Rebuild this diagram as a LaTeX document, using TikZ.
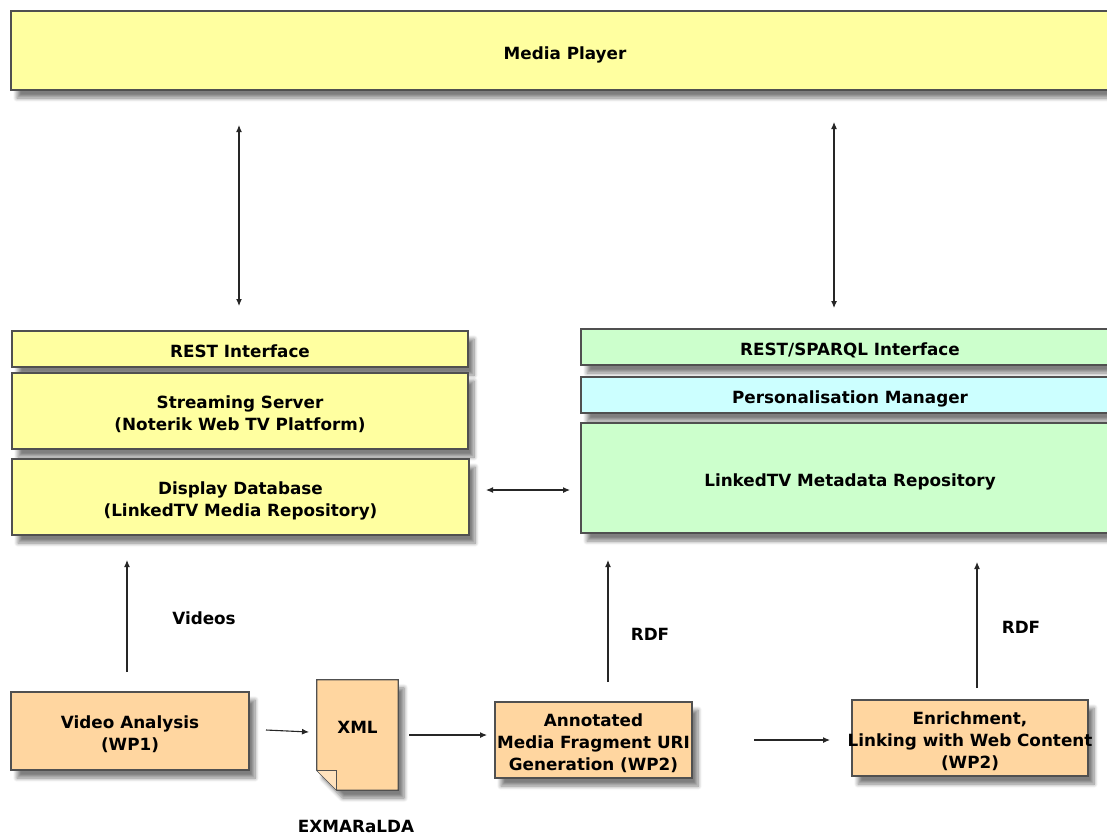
\documentclass[tikz,border=0pt]{standalone}
\usepackage{fontspec}
\setmainfont{DejaVu Sans}
\usetikzlibrary{arrows.meta,shadows.blur}
\definecolor{boxyellow}{HTML}{FFFFA0}
\definecolor{boxgreen}{HTML}{CCFFCC}
\definecolor{boxcyan}{HTML}{CCFFFF}
\definecolor{boxpeach}{HTML}{FFD6A0}
\definecolor{boxline}{HTML}{505050}
\newcommand{\tx}[1]{\makebox[0pt]{\raisebox{-4.5pt}[\height][\depth]{\begin{tabular}{@{}c@{}}#1\end{tabular}}}}
\begin{document}
\begin{tikzpicture}[x=1pt,y=-1pt,
  every node/.style={font=\bfseries\fontsize{16.8}{22}\selectfont, inner sep=0pt},
  shade/.style={blur shadow={shadow xshift=6pt, shadow yshift=-8pt, shadow blur steps=8, shadow blur radius=4pt, shadow opacity=50}},
  boxy/.style={draw=boxline, line width=1.3pt, rectangle, shade},
  ylw/.style={boxy, fill=boxyellow},
  grn/.style={boxy, fill=boxgreen},
  cyn/.style={boxy, fill=boxcyan},
  pch/.style={boxy, fill=boxpeach},
  conn/.style={draw=black!85, line width=1.1pt, -{Latex[length=7pt,width=6pt]}},
  biconn/.style={draw=black!85, line width=1.1pt, {Latex[length=7pt,width=6pt]}-{Latex[length=7pt,width=6pt]}},
  lbl/.style={}
]
\useasboundingbox (0,0) rectangle (1107,836);
\clip (0,0) rectangle (1107,836);

% top
\node[ylw, minimum width=1108pt, minimum height=79pt] (mp) at (565,50.5) {\tx{Media Player}};

% left stack
\node[ylw, minimum width=456pt, minimum height=36pt] (rest) at (240,349) {\tx{REST Interface}};
\node[ylw, minimum width=456pt, minimum height=76pt] (stream) at (240,411) {\tx{Streaming Server\\(Noterik Web TV Platform)}};
\node[ylw, minimum width=457pt, minimum height=76pt] (disp) at (240.5,497) {\tx{Display Database\\(LinkedTV Media Repository)}};

% right stack
\node[grn, minimum width=538pt, minimum height=36pt] (sparql) at (850,347) {\tx{REST/SPARQL Interface}};
\node[cyn, minimum width=538pt, minimum height=36pt] (pers) at (850,395) {\tx{Personalisation Manager}};
\node[grn, minimum width=538pt, minimum height=110pt] (meta) at (850,478) {\tx{LinkedTV Metadata Repository}};

% bottom row
\node[pch, minimum width=238pt, minimum height=78pt] (va) at (130,731) {\tx{Video Analysis\\(WP1)}};
\node[minimum width=81pt, minimum height=110pt] (xml) at (357.5,735) {};
\fill[boxpeach, draw=boxline, line width=1.3pt, shade]
  (xml.north west) -- (xml.north east) -- (xml.south east) -- ([xshift=20pt]xml.south west) -- ([yshift=20pt]xml.south west) -- cycle;
\draw[boxline, line width=1.3pt, fill=boxpeach!70!white] ([yshift=20pt]xml.south west) -- ([xshift=20pt,yshift=20pt]xml.south west) -- ([xshift=20pt]xml.south west);
\node (xmltxt) at (357.5,724.5) {\tx{XML}};
\node (exm) at (356,824) {\tx{EXMARaLDA}};
\node[pch, minimum width=197pt, minimum height=76pt] (ann) at (593.5,740) {\tx{Annotated\\Media Fragment URI\\Generation (WP2)}};
\node[pch, minimum width=236pt, minimum height=76pt] (enr) at (970,738) {\tx{Enrichment,\\Linking with Web Content\\(WP2)}};

% connector coordinates
\coordinate (a1s) at (239,125); \coordinate (a1e) at (239,306);
\coordinate (a2s) at (834,122); \coordinate (a2e) at (834,308);
\coordinate (hs) at (486,490); \coordinate (he) at (570,490);
\coordinate (vs) at (127,672); \coordinate (ve) at (127,560);
\coordinate (r1s) at (608,682); \coordinate (r1e) at (608,560);
\coordinate (r2s) at (977,688); \coordinate (r2e) at (977,562);
\coordinate (x1s) at (266,730); \coordinate (x1e) at (309,732);
\coordinate (x2s) at (409,735); \coordinate (x2e) at (487,735);
\coordinate (x3s) at (754,740); \coordinate (x3e) at (830,740);

\draw[biconn] (a1s) -- (a1e);
\draw[biconn] (a2s) -- (a2e);
\draw[biconn] (hs) -- (he);
\draw[conn] (vs) -- (ve);
\draw[conn] (r1s) -- (r1e);
\draw[conn] (r2s) -- (r2e);
\draw[conn] (x1s) -- (x1e);
\draw[conn] (x2s) -- (x2e);
\draw[conn] (x3s) -- (x3e);

\node[lbl] (lv) at (204,615.5) {\tx{Videos}};
\node[lbl] (lr1) at (650,631.5) {\tx{RDF}};
\node[lbl] (lr2) at (1021,624.5) {\tx{RDF}};
\end{tikzpicture}
\end{document}
